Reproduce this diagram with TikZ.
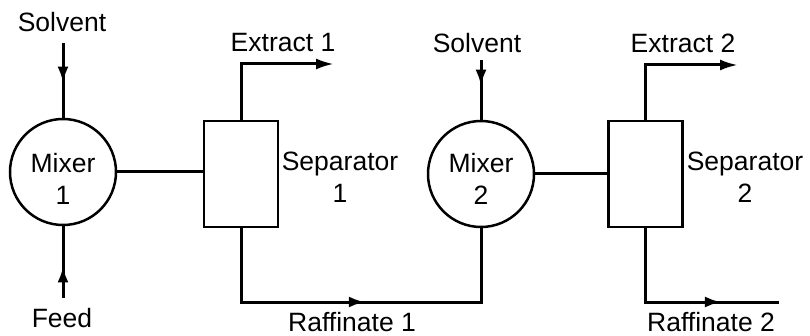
\documentclass[tikz,border=0pt]{standalone}
\usepackage{fontspec}
\setmainfont{Liberation Sans}
\usetikzlibrary{arrows.meta,decorations.markings}
\begin{document}
\begin{tikzpicture}[x=1pt,y=-1pt,
  every node/.style={font=\fontsize{26.5}{32}\selectfont, inner sep=0pt},
  mixer/.style={draw, circle, line width=2.5pt, minimum size=106pt},
  sepbox/.style={draw, rectangle, line width=2.5pt, minimum width=74pt, minimum height=106pt},
  lbl/.style={align=center},
  pipe/.style={line width=3pt},
  midarr/.style={postaction={decorate}, decoration={markings, mark=at position #1 with {\arrow{Latex[length=16pt,width=11pt]}}}},
  endarr/.style={-{Latex[length=18pt,width=11pt]}}
]
\useasboundingbox (0,0) rectangle (810,336);

% units
\node[mixer] (m1) at (63,172) {};
\node[lbl] (m1t) at (63,179) {Mixer\\1};
\node[sepbox] (s1) at (241,174) {};
\node[lbl] (s1t) at (340,177) {Separator\\1};
\node[mixer] (m2) at (481,174) {};
\node[lbl] (m2t) at (481,179) {Mixer\\2};
\node[sepbox] (s2) at (645.5,174) {};
\node[lbl] (s2t) at (745,177) {Separator\\2};

% stream labels
\node (solv1) at (62,22) {Solvent};
\node (feed) at (62,318) {Feed};
\node (ext1) at (283,43) {Extract 1};
\node (solv2) at (477,43) {Solvent};
\node (ext2) at (683,43) {Extract 2};
\node (raf1) at (352,322.5) {Raffinate 1};
\node (raf2) at (711,322) {Raffinate 2};

% free ends
\coordinate (solv1e) at (63,43);
\coordinate (feede) at (63,298);
\coordinate (solv2e) at (481,60);
\coordinate (ext1e) at (334,64);
\coordinate (ext2e) at (738,65);
\coordinate (j1) at (481,302);
\coordinate (raf2e) at (779,302);

% connectors
\draw[pipe, midarr=0.53] (solv1e) -- (m1.north);
\draw[pipe, midarr=0.44] (feede) -- (m1.south);
\draw[pipe] (m1.east) -- (m1.east -| s1.west);
\draw[pipe, endarr] (s1.north) |- (ext1e);
\draw[pipe, midarr=0.51] (s1.south) |- (j1) -- (m2.south);
\draw[pipe, midarr=0.43] (solv2e) -- (m2.north);
\draw[pipe] (m2.east) -- (m2.east -| s2.west);
\draw[pipe, endarr] (s2.north) |- (ext2e);
\draw[pipe, midarr=0.72] (s2.south) |- (raf2e);
\end{tikzpicture}
\end{document}
